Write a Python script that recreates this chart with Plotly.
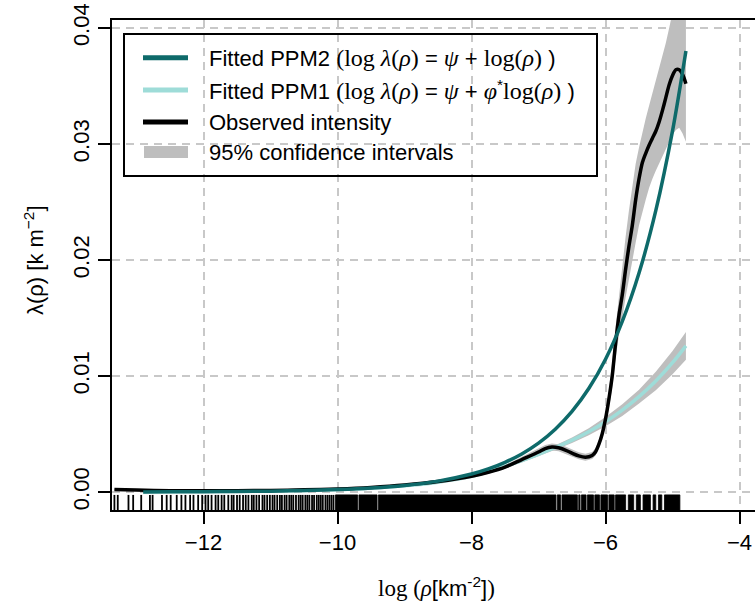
import plotly.graph_objects as go

# ---------------- data ----------------
# Observed intensity (black) with 95% CI (grey)
obs_x = [-13.33, -13.0, -12.5, -12.0, -11.5, -11.0, -10.5, -10.0, -9.5, -9.0, -8.5, -8.0,
         -7.75, -7.5, -7.25, -7.0, -6.9, -6.8, -6.7, -6.6, -6.5, -6.4, -6.3, -6.2, -6.15,
         -6.1, -6.05, -6.0, -5.95, -5.9, -5.85, -5.8, -5.75, -5.7, -5.65, -5.6, -5.55, -5.5,
         -5.45, -5.4, -5.35, -5.3, -5.25, -5.2, -5.15, -5.1, -5.05, -5.0, -4.95, -4.9, -4.85, -4.8]
obs_y = [0.00022, 0.00017, 0.00012, 0.00011, 0.00012, 0.00014, 0.00019, 0.00027, 0.00040, 0.00060,
         0.00090, 0.00135, 0.00170, 0.00215, 0.00280, 0.00345, 0.00375, 0.00388, 0.00382, 0.00362,
         0.00335, 0.00312, 0.00300, 0.00315, 0.00345, 0.00410, 0.00500, 0.00630, 0.00800, 0.01000,
         0.01280, 0.01520, 0.01700, 0.01920, 0.02120, 0.02300, 0.02520, 0.02700, 0.02840, 0.02920,
         0.02990, 0.03050, 0.03110, 0.03190, 0.03290, 0.03400, 0.03510, 0.03590, 0.03640, 0.03640,
         0.03600, 0.03520]
obs_lo = [0.00016, 0.00011, 0.00006, 0.00005, 0.00006, 0.00008, 0.00013, 0.00021, 0.00034, 0.00054,
          0.00084, 0.00125, 0.00158, 0.00200, 0.00260, 0.00320, 0.00345, 0.00358, 0.00352, 0.00332,
          0.00305, 0.00282, 0.00270, 0.00285, 0.00313, 0.00375, 0.00460, 0.00580, 0.00720, 0.00900,
          0.01150, 0.01350, 0.01500, 0.01680, 0.01850, 0.02000, 0.02150, 0.02300, 0.02420, 0.02520,
          0.02620, 0.02700, 0.02770, 0.02840, 0.02900, 0.02960, 0.03020, 0.03080, 0.03120, 0.03140,
          0.03090, 0.03020]
obs_hi = [0.00028, 0.00023, 0.00018, 0.00017, 0.00018, 0.00020, 0.00025, 0.00033, 0.00046, 0.00066,
          0.00096, 0.00145, 0.00182, 0.00230, 0.00300, 0.00370, 0.00405, 0.00418, 0.00412, 0.00392,
          0.00365, 0.00342, 0.00330, 0.00345, 0.00377, 0.00445, 0.00540, 0.00680, 0.00880, 0.01120,
          0.01420, 0.01700, 0.01950, 0.02200, 0.02430, 0.02650, 0.02830, 0.02970, 0.03100, 0.03220,
          0.03330, 0.03440, 0.03550, 0.03650, 0.03750, 0.03870, 0.04000, 0.04140, 0.04280, 0.04400,
          0.04480, 0.04550]

# Fitted models
ppm_x = [-12.9, -12.5, -12.0, -11.5, -11.0, -10.5, -10.0, -9.5, -9.0, -8.5, -8.0, -7.75, -7.5,
         -7.25, -7.0, -6.75, -6.5, -6.25, -6.0, -5.75, -5.5, -5.25, -5.0, -4.8]
ppm2_y = [0.0000115, 0.0000172, 0.0000284, 0.0000468, 0.0000771, 0.000127, 0.000210, 0.000346,
          0.000570, 0.000940, 0.00155, 0.00199, 0.00256, 0.00328, 0.00421, 0.00541, 0.00695,
          0.00892, 0.01145, 0.01471, 0.01888, 0.02425, 0.03113, 0.03802]
ppm1_y = [0.000020, 0.000030, 0.000040, 0.000060, 0.000090, 0.000140, 0.000210, 0.000330,
          0.000530, 0.000850, 0.001350, 0.00175, 0.00220, 0.00270, 0.00325, 0.00384, 0.00447,
          0.00520, 0.00606, 0.00706, 0.00822, 0.00957, 0.01115, 0.01260]
ppm1_lo = [0.000000, 0.000000, 0.000000, 0.000020, 0.000050, 0.000100, 0.000170, 0.000280,
           0.000470, 0.000780, 0.001260, 0.00164, 0.00207, 0.00255, 0.00308, 0.00364, 0.00423,
           0.00490, 0.00566, 0.00656, 0.00762, 0.00877, 0.01015, 0.01140]
ppm1_hi = [0.000060, 0.000070, 0.000080, 0.000100, 0.000130, 0.000180, 0.000250, 0.000380,
           0.000590, 0.000920, 0.001440, 0.00186, 0.00233, 0.00285, 0.00342, 0.00404, 0.00471,
           0.00550, 0.00646, 0.00756, 0.00882, 0.01037, 0.01215, 0.01380]

# Rug: individual observations (sparse part) and dense runs of observations
rug_ticks = [-13.33, -13.28, -13.12, -13.05, -12.93, -12.80, -12.76, -12.62, -12.55, -12.49,
             -12.40, -12.33, -12.27, -12.20, -12.15, -12.08, -12.02, -11.97, -11.93, -11.88,
             -11.82, -11.78, -11.73, -11.69, -11.63, -11.58, -11.55, -11.50, -11.46, -11.41,
             -11.37, -11.33, -11.28, -11.25, -11.21, -11.17, -11.12, -11.09, -11.05, -11.01,
             -10.97, -10.94, -10.90, -10.86, -10.83, -10.79, -10.76, -10.72, -10.69, -10.66,
             -10.62, -10.58, -10.55, -10.52, -10.48, -10.45, -10.42, -10.38, -10.35, -10.31,
             -10.28, -10.25, -10.22, -10.18, -10.15, -10.12, -10.09, -10.06]
rug_runs = [(-10.03, -9.70), (-9.68, -9.41), (-9.39, -6.74), (-6.72, -6.67), (-6.65, -6.42),
            (-6.40, -6.38), (-6.36, -6.29), (-6.27, -6.18), (-6.16, -6.09), (-6.07, -5.97),
            (-5.95, -5.87), (-5.85, -5.70), (-5.66, -5.58), (-5.54, -5.48), (-5.44, -5.33),
            (-5.29, -5.25), (-5.21, -5.16), (-5.12, -4.89)]
rug_top = -0.00025
rug_bottom = -0.0017

x_tickvals = [-12, -10, -8, -6, -4]
x_ticktext = ["\u221212", "\u221210", "\u22128", "\u22126", "\u22124"]
y_tickvals = [0.0, 0.01, 0.02, 0.03, 0.04]
y_ticktext = ["0.00", "0.01", "0.02", "0.03", "0.04"]

SERIF = 'font-family:Liberation Serif;font-size:24px'
legend_labels = [
    f'Fitted PPM2 <span style="{SERIF}">(log <i>λ</i>(<i>ρ</i>)</span> = '
    f'<span style="{SERIF}"><i>ψ</i></span> + '
    f'<span style="{SERIF}">log(<i>ρ</i>)</span> )',
    f'Fitted PPM1 <span style="{SERIF}">(log <i>λ</i>(<i>ρ</i>)</span> = '
    f'<span style="{SERIF}"><i>ψ</i></span> + '
    f'<span style="{SERIF}"><i>φ</i></span><sup>*</sup><span style="{SERIF}">log(<i>ρ</i>)</span> )',
    'Observed intensity',
    '95% confidence intervals',
]

# ---------------- styles ----------------
C_PPM2 = "#0e6a6a"
C_PPM1 = "#9edcd8"
C_OBS = "#000000"
C_CI = "#bebebe"
SANS = "Liberation Sans, Arial, sans-serif"
FS = 22

fig = go.Figure()

# CI bands
fig.add_trace(go.Scatter(x=ppm_x + ppm_x[::-1], y=ppm1_hi + ppm1_lo[::-1], fill="toself",
                         fillcolor=C_CI, line=dict(width=0), mode="lines", hoverinfo="skip"))
fig.add_trace(go.Scatter(x=obs_x + obs_x[::-1], y=obs_hi + obs_lo[::-1], fill="toself",
                         fillcolor=C_CI, line=dict(width=0), mode="lines", hoverinfo="skip"))

# rug
rx, ry = [], []
for t in rug_ticks:
    rx += [t, t, None]
    ry += [rug_bottom, rug_top, None]
fig.add_trace(go.Scatter(x=rx, y=ry, mode="lines", line=dict(color="black", width=1.8),
                         hoverinfo="skip"))
for a, b in rug_runs:
    fig.add_trace(go.Scatter(x=[a, b, b, a, a], y=[rug_bottom, rug_bottom, rug_top, rug_top, rug_bottom],
                             fill="toself", fillcolor="black", line=dict(width=0.8, color="black"),
                             mode="lines", hoverinfo="skip"))

# curves
fig.add_trace(go.Scatter(x=ppm_x, y=ppm1_y, mode="lines",
                         line=dict(color=C_PPM1, width=3.5, shape="spline", smoothing=0.8)))
fig.add_trace(go.Scatter(x=obs_x, y=obs_y, mode="lines",
                         line=dict(color=C_OBS, width=3.5, shape="spline", smoothing=0.8)))
fig.add_trace(go.Scatter(x=ppm_x, y=ppm2_y, mode="lines",
                         line=dict(color=C_PPM2, width=3.5, shape="spline", smoothing=0.8)))

# ---------------- layout ----------------
L, R, T, B = 112, 755, 20, 510
W, H = 755, 604


def px(x):
    return (x - L) / (R - L)


def py(y):
    return (B - y) / (B - T)


shapes = []
annotations = []
# legend box
shapes.append(dict(type="rect", xref="paper", yref="paper", x0=px(124), x1=px(597),
                   y0=py(176), y1=py(34), line=dict(color="black", width=2), fillcolor="rgba(0,0,0,0)"))
rows = [57.7, 90, 122, 152]
colors = [C_PPM2, C_PPM1, C_OBS]
for i, c in enumerate(colors):
    shapes.append(dict(type="line", xref="paper", yref="paper", x0=px(143), x1=px(188),
                       y0=py(rows[i]), y1=py(rows[i]), line=dict(color=c, width=5)))
shapes.append(dict(type="rect", xref="paper", yref="paper", x0=px(144), x1=px(188),
                   y0=py(158), y1=py(146), line=dict(width=0), fillcolor=C_CI))
for i, txt in enumerate(legend_labels):
    annotations.append(dict(text=txt, xref="paper", yref="paper", x=px(207), y=py(rows[i]),
                            xanchor="left", yanchor="middle", showarrow=False,
                            font=dict(family=SANS, size=FS, color="black")))

# axis titles
annotations.append(dict(
    text='<span style="font-family:Liberation Serif;font-size:23px">log (<i>ρ</i></span>[km<sup>-2</sup>]'
         '<span style="font-family:Liberation Serif;font-size:23px">)</span>',
    xref="paper", yref="paper", x=px(436), y=py(587), xanchor="center", yanchor="middle",
    showarrow=False, font=dict(family=SANS, size=FS, color="black")))
annotations.append(dict(
    text="λ(ρ) [k m<sup>−2</sup>]",
    xref="paper", yref="paper", x=px(34), y=py(260), xanchor="center", yanchor="middle",
    textangle=-90, showarrow=False, font=dict(family=SANS, size=FS, color="black")))

fig.update_layout(
    width=W, height=H, margin=dict(l=L, r=W - R, t=T, b=H - B),
    paper_bgcolor="white", plot_bgcolor="white", showlegend=False,
    font=dict(family=SANS, size=FS, color="black"),
    shapes=shapes, annotations=annotations,
    xaxis=dict(range=[-13.366, -3.769], tickvals=x_tickvals, ticktext=x_ticktext,
               showgrid=True, gridcolor="#c8c8c8", gridwidth=1.5, griddash="8px,6px",
               zeroline=False, showline=True, linecolor="black", linewidth=2, mirror=True,
               ticks="outside", ticklen=12, tickwidth=2, tickcolor="black",
               tickfont=dict(family=SANS, size=FS)),
    yaxis=dict(range=[-0.00155, 0.04069], tickvals=y_tickvals, ticktext=y_ticktext,
               showgrid=True, gridcolor="#c8c8c8", gridwidth=1.5, griddash="8px,6px",
               zeroline=False, showline=True, linecolor="black", linewidth=2, mirror=False,
               ticks="outside", ticklen=12, tickwidth=2, tickcolor="black", tickangle=-90,
               tickfont=dict(family=SANS, size=FS)),
)

fig.write_html("out.html")
